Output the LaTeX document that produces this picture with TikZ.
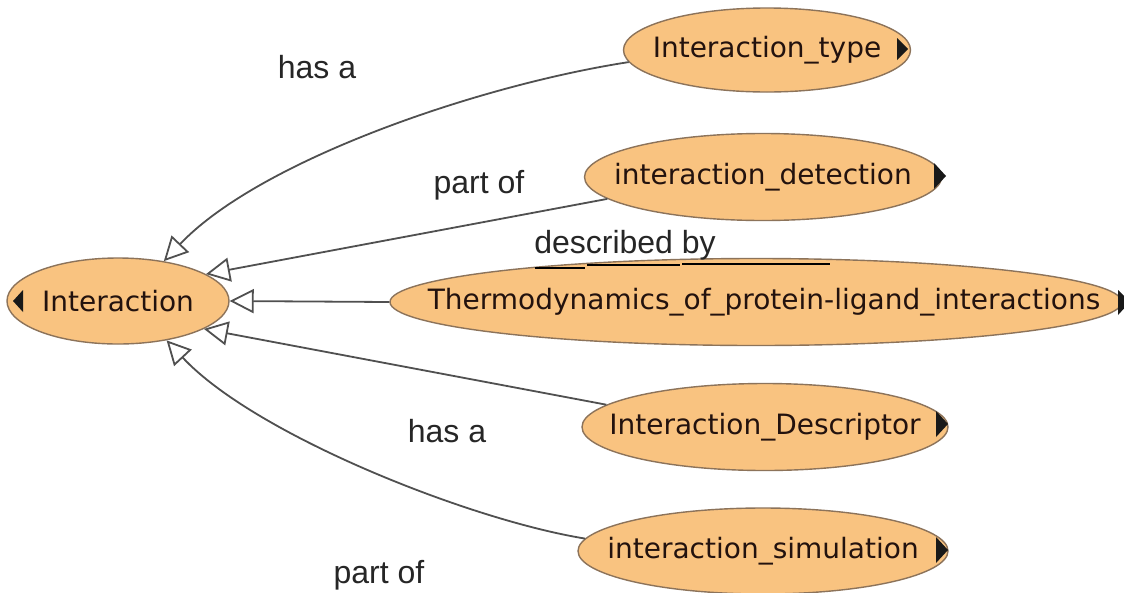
\documentclass[tikz,border=0pt]{standalone}
\usepackage{fontspec}
\usetikzlibrary{shapes.geometric,arrows.meta,calc}
\newfontfamily\nodefont{DejaVu Sans}
\newfontfamily\labfont{Liberation Sans}
\definecolor{nodefill}{RGB}{249,195,128}
\definecolor{nodeedge}{RGB}{140,115,90}
\definecolor{edgecol}{RGB}{80,80,80}
\definecolor{txt}{RGB}{35,18,14}
\tikzset{
  cls/.style={ellipse, draw=nodeedge, fill=nodefill, line width=1.4pt, inner sep=0pt},
  clstext/.style={font=\nodefont\fontsize{28}{32}\selectfont, text=txt},
  rel/.style={font=\labfont\fontsize{32}{36}\selectfont, text=black!85},
  isa/.style={draw=edgecol, line width=1.8pt, -{Triangle[fill=white,length=24pt,width=24pt]}},
  expander/.style={fill=black!90, draw=none},
  uline/.style={draw=black, line width=2.6pt}
}
\begin{document}
\begin{tikzpicture}[x=1pt,y=-1pt]
\useasboundingbox (0,0) rectangle (1124,592);
\fill[white] (0,0) rectangle (1124,592);

% nodes
\node[cls, minimum width=222pt, minimum height=86pt,
  label={[clstext]center:Interaction}] (int) at (118,301) {};
\node[cls, minimum width=287pt, minimum height=84pt,
  label={[clstext]center:Interaction\_type}] (itype) at (767,50) {};
\node[cls, minimum width=357pt, minimum height=87pt,
  label={[clstext]center:interaction\_detection}] (idet) at (763,177) {};
\node[cls, minimum width=732pt, minimum height=87pt,
  label={[clstext, xshift=8pt]center:Thermodynamics\_of\_protein-ligand\_interactions}] (thermo) at (756,302) {};
\node[cls, minimum width=366pt, minimum height=87pt,
  label={[clstext]center:Interaction\_Descriptor}] (idesc) at (765,427) {};
\node[cls, minimum width=370pt, minimum height=86pt,
  label={[clstext]center:interaction\_simulation}] (isim) at (763,551) {};

% expand markers
\fill[expander] (13,301) -- (23,290) -- (23,312) -- cycle;
\fill[expander] (908,49) -- (897,38) -- (897,60) -- cycle;
\fill[expander] (946,176) -- (934,163) -- (934,189) -- cycle;
\fill[expander] (1130,302) -- (1118,290) -- (1118,315) -- cycle;
\fill[expander] (948,424) -- (936,411) -- (936,437) -- cycle;
\fill[expander] (948,550) -- (936,537) -- (936,563) -- cycle;

% connectors
\draw[isa] (itype.185) .. controls (480,85) and (260,160) .. (int.41);
\draw[isa] (idet.188) -- (int.17);
\draw[isa] (thermo.west) -- (int.east);
\draw[isa] (idesc.172) -- (int.-18);
\draw[isa] (isim.176) .. controls (470,520) and (255,435) .. (int.-39);

% labels
\node[rel] (l1) at (317,67) {has a};
\node[rel] (l2) at (479,185) {part of};
\node[rel] (l3) at (625,245) {described by};
\node[rel] (l4) at (447,431) {has a};
\node[rel] (l5) at (379,575) {part of};

% underline under "described by"
\draw[uline] (535,268) -- (585,268);
\draw[uline] (587,265) -- (680,265);
\draw[uline] (682,264) -- (830,264);
\end{tikzpicture}
\end{document}
